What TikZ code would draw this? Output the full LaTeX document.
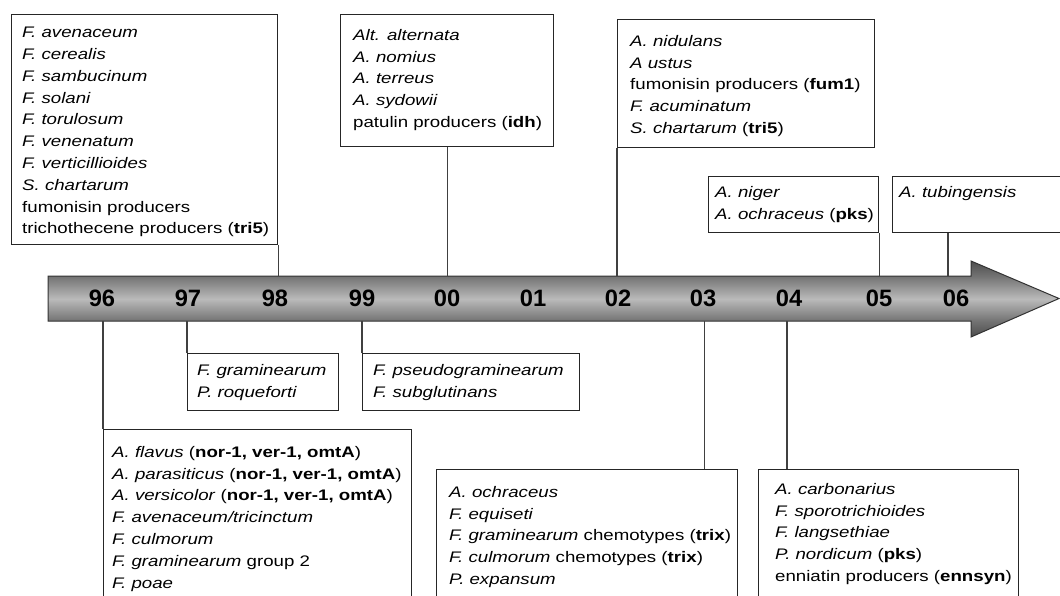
\documentclass[tikz,border=0pt]{standalone}
\usepackage{fontspec}
\setmainfont{Liberation Sans}[FakeStretch=1.22]
\newfontfamily\yearfont{Liberation Sans}
\usepackage{tikz}
\usetikzlibrary{positioning}
\pgfdeclareverticalshading{axisgrad}{100bp}{color(0bp)=(black!70); color(25bp)=(black!70);
    color(35.5bp)=(black!55); color(50bp)=(black!27); color(65bp)=(black!55);
    color(75bp)=(black!70); color(100bp)=(black!70)}
\tikzstyle{box} = [rectangle, draw=black!85, line width=1.3pt, anchor=north west, inner sep=0pt]
\tikzstyle{species} = [anchor=north west, inner sep=0pt, align=left,
    font=\fontsize{15.3}{21.8}\selectfont]
\tikzstyle{year} = [inner sep=0pt, font=\yearfont\bfseries\fontsize{23.7}{24}\selectfont]
\tikzstyle{link} = [draw=black!75, line width=1.1pt]

\begin{document}
\begin{tikzpicture}[x=1pt, y=-1pt]
        \useasboundingbox (0,0) rectangle (1060,596);
        \clip (0,0) rectangle (1060,596);
            % Time axis
        \shadedraw [shading=axisgrad, draw=black!80, line width=1pt]
            (48,276) -- (971,276) -- (971,261) -- (1059,298.5) -- (971,337)
            -- (971,321) -- (48,321) -- cycle;
        \coordinate (axtop) at (48,276);
        \coordinate (axbot) at (48,321);
        \node [year] (y96) at (102,298) {96};
        \node [year] (y97) at (188,298) {97};
        \node [year] (y98) at (275,298) {98};
        \node [year] (y99) at (362,298) {99};
        \node [year] (y00) at (447,298) {00};
        \node [year] (y01) at (533,298) {01};
        \node [year] (y02) at (618,298) {02};
        \node [year] (y03) at (703,298) {03};
        \node [year] (y04) at (789,298) {04};
        \node [year] (y05) at (879,298) {05};
        \node [year] (y06) at (956,298) {06};
            % Boxes above
        \node [box, minimum width=266pt, minimum height=230pt] (b98) at (11,14) {};
        \node [species, below right=13pt and 11pt of b98.north west] (t98) {%
            \textit{F. avenaceum}\\ \textit{F. cerealis}\\ \textit{F. sambucinum}\\
            \textit{F. solani}\\ \textit{F. torulosum}\\ \textit{F. venenatum}\\
            \textit{F. verticillioides}\\ \textit{S. chartarum}\\
            fumonisin producers\\ trichothecene producers (\textbf{tri5})};
        \node [box, minimum width=213pt, minimum height=132pt] (b00) at (340,14) {};
        \node [species, below right=15pt and 13pt of b00.north west] (t00) {%
            \textit{Alt. alternata}\\ \textit{A. nomius}\\ \textit{A. terreus}\\
            \textit{A. sydowii}\\ patulin producers (\textbf{idh})};
        \node [box, minimum width=257pt, minimum height=128pt] (b02) at (617,19) {};
        \node [species, below right=16pt and 13pt of b02.north west] (t02) {%
            \textit{A. nidulans}\\ \textit{A ustus}\\ fumonisin producers (\textbf{fum1})\\
            \textit{F. acuminatum}\\ \textit{S. chartarum} (\textbf{tri5})};
        \node [box, minimum width=170pt, minimum height=56pt] (b05) at (708,176) {};
        \node [species, below right=10pt and 7pt of b05.north west] (t05) {%
            \textit{A. niger}\\ \textit{A. ochraceus} (\textbf{pks})};
        \node [box, minimum width=172pt, minimum height=56pt] (b06) at (892,176) {};
        \node [species, below right=10pt and 7pt of b06.north west] (t06) {%
            \textit{A. tubingensis}};
            % Boxes below
        \node [box, minimum width=151pt, minimum height=57pt] (b97) at (187,353) {};
        \node [species, below right=11pt and 10pt of b97.north west] (t97) {%
            \textit{F. graminearum}\\ \textit{P. roqueforti}};
        \node [box, minimum width=217pt, minimum height=57pt] (b99) at (362,353) {};
        \node [species, below right=11pt and 11pt of b99.north west] (t99) {%
            \textit{F. pseudograminearum}\\ \textit{F. subglutinans}};
        \node [box, minimum width=308pt, minimum height=200pt] (b96) at (103,429) {};
        \node [species, below right=17pt and 9pt of b96.north west] (t96) {%
            \textit{A. flavus} (\textbf{nor-1, ver-1, omtA})\\
            \textit{A. parasiticus} (\textbf{nor-1, ver-1, omtA})\\
            \textit{A. versicolor} (\textbf{nor-1, ver-1, omtA})\\
            \textit{F. avenaceum/tricinctum}\\ \textit{F. culmorum}\\
            \textit{F. graminearum} group 2\\ \textit{F. poae}};
        \node [box, minimum width=301pt, minimum height=160pt] (b03) at (436,469) {};
        \node [species, below right=17pt and 13pt of b03.north west] (t03) {%
            \textit{A. ochraceus}\\ \textit{F. equiseti}\\
            \textit{F. graminearum} chemotypes (\textbf{trix})\\
            \textit{F. culmorum} chemotypes (\textbf{trix})\\ \textit{P. expansum}};
        \node [box, minimum width=260pt, minimum height=160pt] (b04) at (758,469) {};
        \node [species, below right=14pt and 17pt of b04.north west] (t04) {%
            \textit{A. carbonarius}\\ \textit{F. sporotrichioides}\\ \textit{F. langsethiae}\\
            \textit{P. nordicum} (\textbf{pks})\\ enniatin producers (\textbf{ennsyn})};
            % Edges
        \path [link] (b98.south east) -- (b98.south east |- axtop);
        \path [link] (b00.south) -- (b00.south |- axtop);
        \path [link] (b02.south west) -- (b02.south west |- axtop);
        \path [link] (b05.south east) -- (b05.south east |- axtop);
        \path [link] ([xshift=56pt]b06.south west) -- ([xshift=56pt]b06.south west |- axtop);
        \path [link] (b96.north west) -- (b96.north west |- axbot);
        \path [link] (b97.north west) -- (b97.north west |- axbot);
        \path [link] (b99.north west) -- (b99.north west |- axbot);
        \path [link] ([xshift=-34pt]b03.north east) -- ([xshift=-34pt]b03.north east |- axbot);
        \path [link] ([xshift=29pt]b04.north west) -- ([xshift=29pt]b04.north west |- axbot);
    \end{tikzpicture}
\end{document}
